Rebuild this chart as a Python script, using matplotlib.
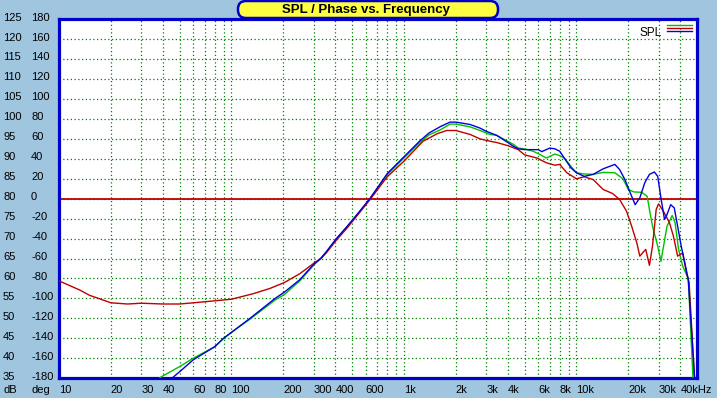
import numpy as np
import matplotlib
matplotlib.use("Agg")
import matplotlib.pyplot as plt
from matplotlib.patches import FancyBboxPatch

plt.rcParams['font.family'] = ['Liberation Sans', 'DejaVu Sans']

# SPL curves (Hz, dB)
red_freq = [10, 13.2, 15, 20, 25, 30, 40, 50, 60, 80, 100, 134, 167, 203, 249, 302,
            330, 356, 402, 469, 550, 636, 800, 1000, 1290, 1560, 1770, 2000, 2420, 2760,
            3160, 3440, 4000, 4600, 5000, 5900, 6700, 7500, 8000, 8800, 10000, 11100,
            12500, 14300, 16200, 17800, 19500, 20900, 22400, 23300, 25200, 26500, 27600,
            29000, 29900, 31900, 34600, 36500, 38600, 41300, 43500, 45000, 48500]
red_db = [59.4, 57.1, 55.8, 53.9, 53.6, 53.8, 53.6, 53.6, 53.9, 54.4, 54.8, 56.2, 57.5,
          59.0, 61.2, 63.9, 65.0, 66.5, 69.4, 72.7, 76.4, 79.8, 85.5, 89.4, 94.4, 96.3,
          97.1, 97.1, 96.1, 95.0, 94.4, 94.1, 93.3, 92.3, 91.0, 90.2, 89.0, 88.4, 88.6,
          86.5, 85.0, 85.5, 84.8, 82.3, 81.3, 79.8, 76.9, 73.1, 68.9, 65.6, 67.3, 63.3,
          68.1, 77.3, 78.7, 76.9, 74.0, 70.6, 65.6, 66.4, 61.4, 59.0, 34.0]

blue_freq = [42, 46, 50, 60, 80, 90, 100, 128, 179, 203, 249, 302, 330, 356, 402, 469,
             550, 636, 800, 1000, 1230, 1400, 1630, 1850, 2000, 2420, 2760, 3000, 3440,
             4000, 4320, 4600, 5000, 6000, 6300, 7000, 7500, 8000, 8500, 9300, 10000,
             11100, 12500, 14300, 16700, 17800, 19100, 20500, 21900, 23300, 24900, 26500,
             28300, 29600, 30900, 32400, 33200, 35200, 36900, 38600, 40500, 42500, 44500,
             48600]
blue_db = [34.0, 35.3, 36.6, 39.6, 42.9, 45.0, 46.5, 50.0, 55.0, 56.6, 59.7, 63.7, 65.1,
           66.8, 69.8, 73.1, 76.7, 80.1, 86.3, 90.5, 94.4, 96.5, 98.1, 99.2, 99.2, 98.6,
           97.7, 96.9, 95.9, 94.1, 93.1, 92.5, 92.3, 92.3, 91.8, 92.7, 92.5, 91.9, 90.2,
           87.7, 86.5, 85.6, 86.1, 87.5, 88.6, 87.3, 84.8, 81.5, 78.5, 80.2, 84.0, 86.1,
           86.7, 85.6, 80.2, 74.8, 75.6, 78.5, 77.7, 73.1, 68.1, 63.9, 59.7, 34.0]

green_freq = [37, 39, 50, 60, 80, 90, 100, 128, 179, 203, 249, 302, 330, 356, 402, 469,
              550, 636, 800, 1000, 1230, 1400, 1630, 1850, 2000, 2420, 2760, 3160, 3440,
              4000, 4320, 4600, 5000, 5600, 6000, 6700, 7000, 7500, 8000, 8500, 9300,
              10000, 11000, 12500, 14300, 16700, 18600, 20000, 21500, 23900, 25700, 26500,
              27600, 29600, 30900, 32000, 33500, 35900, 37300, 39100, 41300, 44500, 47500]
green_db = [34.5, 35.3, 37.9, 40.0, 42.9, 45.0, 46.5, 49.8, 54.6, 56.0, 59.4, 63.5, 65.0,
            66.7, 69.7, 73.0, 76.6, 80.0, 86.0, 90.2, 94.0, 96.0, 97.3, 98.7, 98.7, 98.0,
            97.1, 96.1, 95.9, 94.4, 93.6, 92.7, 92.5, 91.9, 91.3, 90.2, 90.6, 91.2, 90.8,
            90.2, 88.1, 86.5, 86.2, 86.1, 86.6, 86.5, 85.0, 82.3, 81.7, 81.6, 80.6, 77.3,
            73.1, 68.1, 64.3, 68.1, 73.1, 75.8, 74.0, 67.3, 63.1, 60.0, 34.0]

phase_level = 80  # 0 deg line

db_ticks = list(range(35, 130, 5))
deg_ticks = list(range(-180, 200, 20))
x_ticks = [10, 20, 30, 40, 60, 80, 100, 200, 300, 400, 600, 1000, 2000, 3000, 4000,
           6000, 8000, 10000, 20000, 30000, 40000]
x_labels = ['10', '20', '30', '40', '60', '80', '100', '200', '300', '400', '600', '1k',
            '2k', '3k', '4k', '6k', '8k', '10k', '20k', '30k', '40kHz']
grid_x = [m * d for d in (10, 100, 1000, 10000) for m in range(1, 10) if m * d < 50000]

BG = '#9fc5df'
BORDER = '#0000c8'
GRID = '#008000'

fig = plt.figure(figsize=(7.17, 3.98), dpi=100, facecolor=BG)
ax = fig.add_axes([59 / 717, 19.8 / 398, 638 / 717, 359 / 398])
ax.set_xscale('log')
ax.set_xlim(10, 50000)
ax.set_ylim(35, 125)

for gx in grid_x:
    ax.axvline(gx, color=GRID, lw=0.9, ls=(0, (1, 2)), zorder=1)
for gy in db_ticks:
    ax.axhline(gy, color=GRID, lw=0.9, ls=(0, (1, 2)), zorder=1)
ax.axhline(phase_level, color='#c00000', lw=1.3, zorder=2)

ax.plot(green_freq, green_db, color='#00c000', lw=1.0, zorder=3)
ax.plot(red_freq, red_db, color='#c00000', lw=1.0, zorder=4)
ax.plot(blue_freq, blue_db, color='#0000e0', lw=1.0, zorder=5)

ax.set_xticks([])
ax.set_yticks([])
ax.minorticks_off()
for s in ax.spines.values():
    s.set_color(BORDER)
    s.set_linewidth(2.3)

# axis labels, drawn as in the original (left aligned columns)
ytr = ax.get_yaxis_transform()
for d, g in zip(db_ticks, deg_ticks):
    ax.text(-56 / 638, d - 0.35, str(d), transform=ytr, ha='left', va='baseline',
            fontsize=8, clip_on=False)
    ax.text(-28 / 638, d - 0.35, str(g), transform=ytr, ha='left', va='baseline',
            fontsize=8, clip_on=False)
xtr = ax.get_xaxis_transform()
for f, lab in zip(x_ticks, x_labels):
    ax.text(f, -15 / 359, lab, transform=xtr, ha='left', va='baseline', fontsize=8,
            clip_on=False)
ax.text(-56 / 638, -15 / 359, 'dB', transform=ax.transAxes, ha='left', va='baseline',
        fontsize=8)
ax.text(-28 / 638, -15 / 359, 'deg', transform=ax.transAxes, ha='left', va='baseline',
        fontsize=8)

# legend
ax.text(603 / 638, 1 - 17 / 359, 'SPL', transform=ax.transAxes, ha='right',
        va='baseline', fontsize=8.5)
for i, c in enumerate(['#00c000', '#c00000', '#0000e0']):
    yy = 1 - (6 + 3 * i) / 359
    ax.plot([608 / 638, 633 / 638], [yy, yy], transform=ax.transAxes, color=c, lw=1.0,
            clip_on=False, zorder=6)

# title box
box = FancyBboxPatch((2.38, 3.80), 2.60, 0.17, boxstyle='round,pad=0,rounding_size=0.08',
                     transform=fig.dpi_scale_trans, facecolor='#ffff40',
                     edgecolor=BORDER, lw=1.8)
fig.patches.append(box)
fig.text(366 / 717, 1 - 9.5 / 398, 'SPL / Phase vs. Frequency', ha='center', va='center',
         fontsize=9.5, fontweight='bold')

fig.savefig('out.png', dpi=100, facecolor=BG)
